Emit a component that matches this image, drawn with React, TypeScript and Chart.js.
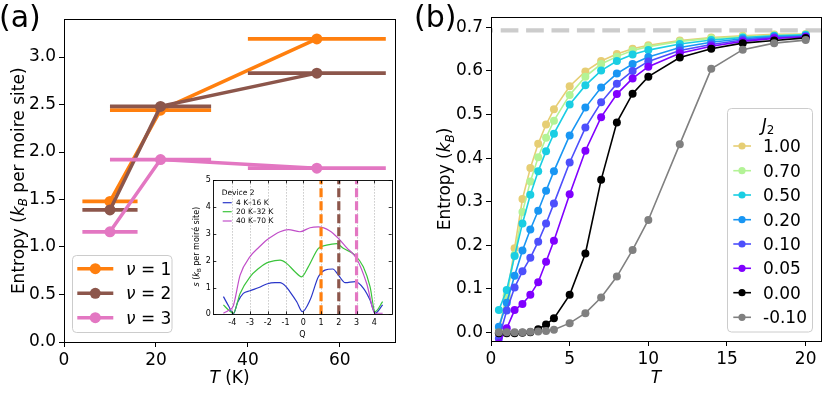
import React, { useEffect, useRef } from "react";
import { Chart, registerables } from "chart.js";

Chart.register(...registerables);

const FONT = "DejaVu Sans";

// ---------------- Panel (a) data ----------------
const tempA = [10, 21, 55];
const tempLowA = [4, 10, 40];
const tempHighA = [16, 32, 70];
const entropyNu1 = [1.48, 2.44, 3.19];
const entropyNu2 = [1.39, 2.48, 2.83];
const entropyNu3 = [1.16, 1.92, 1.83];
const nuNames = ["1", "2", "3"];
const nuColors = ["#ff7f0e", "#8c564b", "#e377c2"];
const xTicksA = [0, 20, 40, 60];
const yTicksA = [0, 0.5, 1.0, 1.5, 2.0, 2.5, 3.0];

// ---------------- Inset data ----------------
const qBlue = [-4.5, -4.2, -3.94, -3.7, -3.38, -3.0, -2.5, -2.06, -1.6, -1.31, -1.0, -0.75, -0.37, -0.05, 0.38, 0.85, 1.22, 1.66, 1.98, 2.36, 2.92, 3.39, 3.76, 4.04, 4.47];
const sBlue = [0.66, 0.3, 0.02, 0.45, 0.78, 0.88, 1.0, 1.13, 1.18, 1.18, 1.05, 0.84, 0.47, 0.1, 0.53, 1.4, 1.65, 1.69, 1.46, 1.18, 1.22, 0.97, 0.53, 0.04, 0.35];
const qGreen = [-4.5, -4.2, -3.94, -3.56, -3.0, -2.5, -2.06, -1.6, -1.31, -0.94, -0.47, -0.1, 0.28, 0.85, 1.31, 1.88, 2.25, 2.91, 3.38, 3.76, 4.04, 4.47];
const sGreen = [0.35, 0.15, 0.04, 0.78, 1.4, 1.72, 1.92, 2.0, 2.02, 1.9, 1.59, 1.4, 1.77, 2.46, 2.58, 2.64, 2.46, 2.21, 1.77, 1.03, 0.1, 0.47];
const qPurple = [-4.5, -4.2, -3.94, -3.56, -3.0, -2.5, -2.06, -1.6, -1.31, -0.84, -0.19, 0.38, 0.85, 1.5, 1.98, 2.44, 3.0, 3.57, 4.04, 4.47];
const sPurple = [0.04, 0.15, 0.32, 1.46, 2.15, 2.5, 2.77, 2.98, 3.08, 3.16, 3.08, 3.23, 3.26, 3.11, 2.83, 2.49, 2.08, 1.15, 0.04, 0.04];
const insetLabels = ["4 K\u201316 K", "20 K\u201332 K", "40 K\u201370 K"];
const insetColors = ["#2a36c9", "#3cc43c", "#c14fc9"];
const markerQ = [1, 2, 3];
const qTicks = [-4, -3, -2, -1, 0, 1, 2, 3, 4];
const sTicks = [0, 1, 2, 3, 4, 5];

// ---------------- Panel (b) data ----------------
const tempB = [0.5, 1, 1.5, 2, 2.5, 3, 3.5, 4, 5, 6, 7, 8, 9, 10, 12, 14, 16, 18, 20];
const sJ100 = [0.005, 0.08, 0.193, 0.306, 0.377, 0.433, 0.477, 0.512, 0.565, 0.599, 0.623, 0.639, 0.651, 0.659, 0.67, 0.677, 0.681, 0.684, 0.685];
const sJ070 = [0.008, 0.085, 0.178, 0.276, 0.346, 0.402, 0.447, 0.486, 0.545, 0.587, 0.616, 0.633, 0.647, 0.656, 0.668, 0.675, 0.679, 0.682, 0.684];
const sJ050 = [0.051, 0.097, 0.175, 0.25, 0.316, 0.37, 0.416, 0.456, 0.523, 0.567, 0.601, 0.623, 0.638, 0.648, 0.662, 0.671, 0.677, 0.681, 0.683];
const sJ020 = [0.013, 0.068, 0.13, 0.188, 0.236, 0.279, 0.325, 0.37, 0.452, 0.516, 0.562, 0.594, 0.616, 0.632, 0.654, 0.666, 0.674, 0.679, 0.681];
const sJ010 = [-0.014, 0.05, 0.103, 0.14, 0.171, 0.208, 0.25, 0.296, 0.39, 0.47, 0.528, 0.571, 0.6, 0.622, 0.647, 0.661, 0.671, 0.677, 0.679];
const sJ005 = [-0.025, 0.009, 0.051, 0.065, 0.086, 0.115, 0.162, 0.21, 0.317, 0.417, 0.494, 0.547, 0.583, 0.61, 0.641, 0.657, 0.668, 0.675, 0.678];
const sJ000 = [-0.002, -0.002, -0.002, -0.001, 0.0, 0.007, 0.018, 0.032, 0.086, 0.181, 0.35, 0.482, 0.548, 0.587, 0.631, 0.651, 0.664, 0.67, 0.676];
const sJm010 = [0.0, 0.0, 0.0, 0.0, 0.001, 0.002, 0.003, 0.006, 0.021, 0.044, 0.08, 0.128, 0.189, 0.258, 0.432, 0.605, 0.649, 0.664, 0.671];
const j2Labels = ["1.00", "0.70", "0.50", "0.20", "0.10", "0.05", "0.00", "-0.10"];
const j2Colors = ["#e6ce74", "#b3f396", "#1acee3", "#1996f3", "#4d4ffc", "#8000ff", "#000000", "#808080"];
const xTicksB = [0, 5, 10, 15, 20];
const yTicksB = [0, 0.1, 0.2, 0.3, 0.4, 0.5, 0.6, 0.7];
const LN2 = Math.log(2);

// ---------------- helpers ----------------
type Seg = { t: string; it?: boolean; sub?: boolean };

function segFont(s: Seg, size: number) {
  return `${s.it ? "italic " : ""}${s.sub ? size * 0.7 : size}px "${FONT}"`;
}
function richWidth(ctx: CanvasRenderingContext2D, segs: Seg[], size: number) {
  let w = 0;
  for (const s of segs) {
    ctx.font = segFont(s, size);
    w += ctx.measureText(s.t).width;
  }
  return w;
}
function drawRich(
  ctx: CanvasRenderingContext2D,
  segs: Seg[],
  x: number,
  y: number,
  size: number,
  align: "left" | "center",
  rot = 0,
  color = "#000"
) {
  ctx.save();
  ctx.translate(x, y);
  if (rot) ctx.rotate(rot);
  const w = richWidth(ctx, segs, size);
  let cx = align === "center" ? -w / 2 : 0;
  ctx.fillStyle = color;
  ctx.textAlign = "left";
  ctx.textBaseline = "alphabetic";
  for (const s of segs) {
    ctx.font = segFont(s, size);
    ctx.fillText(s.t, cx, s.sub ? size * 0.22 : 0);
    cx += ctx.measureText(s.t).width;
  }
  ctx.restore();
}
function roundRectPath(ctx: CanvasRenderingContext2D, x: number, y: number, w: number, h: number, r: number) {
  ctx.beginPath();
  ctx.moveTo(x + r, y);
  ctx.lineTo(x + w - r, y);
  ctx.arcTo(x + w, y, x + w, y + r, r);
  ctx.lineTo(x + w, y + h - r);
  ctx.arcTo(x + w, y + h, x + w - r, y + h, r);
  ctx.lineTo(x + r, y + h);
  ctx.arcTo(x, y + h, x, y + h - r, r);
  ctx.lineTo(x, y + r);
  ctx.arcTo(x, y, x + r, y, r);
  ctx.closePath();
}
function frame(ctx: CanvasRenderingContext2D, a: any, lw = 1) {
  ctx.save();
  ctx.strokeStyle = "#000";
  ctx.lineWidth = lw;
  ctx.strokeRect(Math.round(a.left) + 0.5, Math.round(a.top) + 0.5, Math.round(a.right) - Math.round(a.left), Math.round(a.bottom) - Math.round(a.top));
  ctx.restore();
}

function axis(min: number, max: number, ticks: number[], fmt: (v: number) => string, fixed: number, isX: boolean, size = 17, pad = 3) {
  return {
    type: "linear",
    min,
    max,
    afterBuildTicks: (s: any) => {
      s.ticks = ticks.map((v) => ({ value: v }));
    },
    afterFit: (s: any) => {
      if (isX) s.height = fixed;
      else s.width = fixed;
    },
    ticks: {
      font: { family: FONT, size },
      color: "#000",
      padding: pad,
      autoSkip: false,
      maxRotation: 0,
      minRotation: 0,
      includeBounds: false,
      callback: (v: any) => fmt(Number(v)),
    },
    grid: { drawOnChartArea: false, drawTicks: true, tickLength: 5, color: "#000", lineWidth: 1 },
    border: { display: false },
  };
}

function withOrder(list: any[]) {
  const n = list.length;
  return list.map((d, i) => ({ ...d, order: n - i }));
}

// ---------------- Panel (a) config ----------------
function configA(): any {
  const series = [entropyNu1, entropyNu2, entropyNu3];
  const ds: any[] = [];
  series.forEach((vals, k) => {
    vals.forEach((v, i) => {
      ds.push({
        data: [{ x: tempLowA[i], y: v }, { x: tempHighA[i], y: v }],
        showLine: true,
        borderColor: nuColors[k],
        borderWidth: 3.8,
        pointRadius: 0,
        borderCapStyle: "butt",
        clip: 0,
      });
    });
    ds.push({
      data: vals.map((v, i) => ({ x: tempA[i], y: v })),
      showLine: true,
      borderColor: nuColors[k],
      backgroundColor: nuColors[k],
      borderWidth: 3.5,
      pointRadius: 5.5,
      pointBackgroundColor: nuColors[k],
      pointBorderWidth: 0,
      clip: 0,
    });
  });
  const plugin = {
    id: "panelA",
    afterDatasetsDraw(chart: any) {
      frame(chart.ctx, chart.chartArea);
    },
    afterDraw(chart: any) {
      const ctx = chart.ctx as CanvasRenderingContext2D;
      // legend
      ctx.save();
      roundRectPath(ctx, 72.5, 255.5, 99.5, 77, 4);
      ctx.fillStyle = "rgba(255,255,255,0.8)";
      ctx.fill();
      ctx.strokeStyle = "#cccccc";
      ctx.lineWidth = 1;
      ctx.stroke();
      const rows = [268.7, 293.3, 317.7];
      nuNames.forEach((nm, k) => {
        const y = rows[k];
        ctx.strokeStyle = nuColors[k];
        ctx.lineWidth = 3.5;
        ctx.beginPath();
        ctx.moveTo(77.3, y);
        ctx.lineTo(113.3, y);
        ctx.stroke();
        ctx.fillStyle = nuColors[k];
        ctx.beginPath();
        ctx.arc(95.3, y, 5.5, 0, Math.PI * 2);
        ctx.fill();
        drawRich(ctx, [{ t: "\u03bd", it: true }, { t: " = " + nm }], 126, y + 6, 17, "left");
      });
      ctx.restore();
      // axis labels
      drawRich(ctx, [{ t: "T", it: true }, { t: " (K)" }], 229.5, 383, 17, "center");
      drawRich(
        ctx,
        [{ t: "Entropy (" }, { t: "k", it: true }, { t: "B", it: true, sub: true }, { t: " per moire site)" }],
        23.5,
        180.8,
        17,
        "center",
        -Math.PI / 2
      );
      ctx.save();
      ctx.font = `30px "${FONT}"`;
      ctx.fillStyle = "#000";
      ctx.textBaseline = "alphabetic";
      ctx.fillText("(a)", -1, 26.5);
      ctx.restore();
    },
  };
  return {
    type: "scatter",
    data: { datasets: withOrder(ds) },
    options: {
      responsive: false,
      maintainAspectRatio: false,
      animation: false,
      devicePixelRatio: 1,
      events: [],
      layout: { padding: { left: 0, right: 20, top: 19, bottom: 0 } },
      plugins: { legend: { display: false }, tooltip: { enabled: false } },
      scales: {
        x: axis(0, 72, xTicksA, (v) => String(v), 54, true),
        y: axis(0, 3.4, yTicksA, (v) => v.toFixed(1), 64, false),
      },
    },
    plugins: [plugin],
  };
}

// ---------------- Inset config ----------------
// canvas placed at page (180,170), size 220x175; axes box = page (213.3,180.3)-(391.7,314.3)
function configI(): any {
  const curves = [
    [qBlue, sBlue],
    [qGreen, sGreen],
    [qPurple, sPurple],
  ];
  const ds: any[] = [];
  curves.forEach(([q, s], k) => {
    ds.push({
      data: q.map((qq, i) => ({ x: qq, y: s[i] })),
      showLine: true,
      borderColor: insetColors[k],
      borderWidth: 1.2,
      pointRadius: 0,
      cubicInterpolationMode: "monotone",
      clip: 0,
    });
  });
  markerQ.forEach((q, k) => {
    ds.push({
      data: [{ x: q, y: 0 }, { x: q, y: 5 }],
      showLine: true,
      borderColor: nuColors[k],
      borderWidth: 3.2,
      borderDash: [9, 4],
      pointRadius: 0,
      clip: 0,
    });
  });
  const plugin = {
    id: "inset",
    beforeDatasetsDraw(chart: any) {
      const ctx = chart.ctx as CanvasRenderingContext2D;
      const a = chart.chartArea;
      ctx.save();
      ctx.fillStyle = "#fff";
      ctx.fillRect(a.left, a.top, a.right - a.left, a.bottom - a.top);
      const xs = chart.scales.x;
      ctx.strokeStyle = "#aaaaaa";
      ctx.lineWidth = 0.8;
      ctx.setLineDash([1.2, 1.8]);
      qTicks.forEach((q) => {
        const px = Math.round(xs.getPixelForValue(q)) + 0.5;
        ctx.beginPath();
        ctx.moveTo(px, a.top);
        ctx.lineTo(px, a.bottom);
        ctx.stroke();
      });
      ctx.restore();
    },
    afterDatasetsDraw(chart: any) {
      const ctx = chart.ctx as CanvasRenderingContext2D;
      const a = chart.chartArea;
      frame(ctx, a, 0.9);
      ctx.save();
      ctx.strokeStyle = "#000";
      ctx.lineWidth = 0.8;
      const xs = chart.scales.x;
      const ys = chart.scales.y;
      qTicks.forEach((q) => {
        const px = Math.round(xs.getPixelForValue(q)) + 0.5;
        ctx.beginPath();
        ctx.moveTo(px, a.bottom);
        ctx.lineTo(px, a.bottom - 3);
        ctx.moveTo(px, a.top);
        ctx.lineTo(px, a.top + 3);
        ctx.stroke();
      });
      sTicks.forEach((s) => {
        const py = Math.round(ys.getPixelForValue(s)) + 0.5;
        ctx.beginPath();
        ctx.moveTo(a.left, py);
        ctx.lineTo(a.left + 3, py);
        ctx.moveTo(a.right, py);
        ctx.lineTo(a.right - 3, py);
        ctx.stroke();
      });
      ctx.restore();
    },
    afterDraw(chart: any) {
      const ctx = chart.ctx as CanvasRenderingContext2D;
      const a = chart.chartArea;
      const xs = chart.scales.x;
      const ys = chart.scales.y;
      ctx.save();
      ctx.fillStyle = "#000";
      ctx.font = `8px "${FONT}"`;
      ctx.textBaseline = "middle";
      ctx.textAlign = "center";
      qTicks.forEach((q) => ctx.fillText(String(q), xs.getPixelForValue(q), a.bottom + 9));
      ctx.textAlign = "right";
      sTicks.forEach((s) => ctx.fillText(String(s), a.left - 2.5, ys.getPixelForValue(s)));
      // legend (inside axes)
      ctx.textAlign = "left";
      ctx.font = `7.5px "${FONT}"`;
      ctx.fillText("Device 2", a.left + 8.4, a.top + 12.4);
      const rows = [22.4, 31.4, 40.7];
      insetLabels.forEach((lb, k) => {
        const y = a.top + rows[k];
        ctx.strokeStyle = insetColors[k];
        ctx.lineWidth = 1.2;
        ctx.beginPath();
        ctx.moveTo(a.left + 9.4, y);
        ctx.lineTo(a.left + 18.4, y);
        ctx.stroke();
        ctx.fillStyle = "#000";
        ctx.fillText(lb, a.left + 22.7, y);
      });
      ctx.restore();
      drawRich(ctx, [{ t: "Q" }], (a.left + a.right) / 2, a.bottom + 23, 8, "center");
      drawRich(
        ctx,
        [{ t: "s", it: true }, { t: " (" }, { t: "k", it: true }, { t: "B", sub: true }, { t: " per moir\u00e9 site)" }],
        a.left - 14.3,
        (a.top + a.bottom) / 2 - 0.6,
        8,
        "center",
        -Math.PI / 2
      );
    },
  };
  return {
    type: "scatter",
    data: { datasets: withOrder(ds) },
    options: {
      responsive: false,
      maintainAspectRatio: false,
      animation: false,
      devicePixelRatio: 1,
      events: [],
      layout: { padding: { left: 33.3, right: 8.3, top: 10.3, bottom: 30.7 } },
      plugins: { legend: { display: false }, tooltip: { enabled: false } },
      scales: {
        x: { type: "linear", min: -5.07, max: 4.98, display: false },
        y: { type: "linear", min: 0, max: 5, display: false },
      },
    },
    plugins: [plugin],
  };
}

// ---------------- Panel (b) config ----------------
function configB(): any {
  const series = [sJ100, sJ070, sJ050, sJ020, sJ010, sJ005, sJ000, sJm010];
  const ds: any[] = [];
  ds.push({
    data: [{ x: 0, y: LN2 }, { x: 20.975, y: LN2 }],
    showLine: true,
    borderColor: "#cccccc",
    borderWidth: 4.3,
    borderDash: [17.7, 7.7],
    borderDashOffset: 15.7,
    borderCapStyle: "butt",
    pointRadius: 0,
    clip: 0,
  });
  series.forEach((vals, k) => {
    ds.push({
      data: vals.map((v, i) => ({ x: tempB[i], y: v })),
      showLine: true,
      borderColor: j2Colors[k],
      backgroundColor: j2Colors[k],
      borderWidth: 1.6,
      pointRadius: 4,
      pointBackgroundColor: j2Colors[k],
      pointBorderWidth: 0,
      clip: 0,
    });
  });
  const OX = 415;
  const plugin = {
    id: "panelB",
    afterDatasetsDraw(chart: any) {
      frame(chart.ctx, chart.chartArea);
    },
    afterDraw(chart: any) {
      const ctx = chart.ctx as CanvasRenderingContext2D;
      ctx.save();
      roundRectPath(ctx, 727.5 - OX, 108.5, 85, 223.5, 4);
      ctx.fillStyle = "rgba(255,255,255,0.8)";
      ctx.fill();
      ctx.strokeStyle = "#cccccc";
      ctx.lineWidth = 1;
      ctx.stroke();
      ctx.restore();
      drawRich(ctx, [{ t: "J", it: true }, { t: "2", sub: true }], 768 - OX, 130.5, 17, "center");
      const rows = [146, 170.7, 195, 219.7, 244, 268.3, 292.7, 317.3];
      j2Labels.forEach((lb, k) => {
        const y = rows[k];
        ctx.save();
        ctx.strokeStyle = j2Colors[k];
        ctx.lineWidth = 1.6;
        ctx.beginPath();
        ctx.moveTo(733.3 - OX, y);
        ctx.lineTo(751 - OX, y);
        ctx.stroke();
        ctx.fillStyle = j2Colors[k];
        ctx.beginPath();
        ctx.arc(742 - OX, y, 3.6, 0, Math.PI * 2);
        ctx.fill();
        ctx.restore();
        drawRich(ctx, [{ t: lb }], 763 - OX, y + 6, 17, "left");
      });
      drawRich(ctx, [{ t: "T", it: true }], 656 - OX, 383, 17, "center");
      drawRich(
        ctx,
        [{ t: "Entropy (" }, { t: "k", it: true }, { t: "B", it: true, sub: true }, { t: ")" }],
        450 - OX,
        179,
        17,
        "center",
        -Math.PI / 2
      );
      ctx.save();
      ctx.font = `30px "${FONT}"`;
      ctx.fillStyle = "#000";
      ctx.textBaseline = "alphabetic";
      ctx.fillText("(b)", 414 - OX, 26.5);
      ctx.restore();
    },
  };
  return {
    type: "scatter",
    data: { datasets: withOrder(ds) },
    options: {
      responsive: false,
      maintainAspectRatio: false,
      animation: false,
      devicePixelRatio: 1,
      events: [],
      layout: { padding: { left: 0, right: 9, top: 17, bottom: 0 } },
      plugins: { legend: { display: false }, tooltip: { enabled: false } },
      scales: {
        x: axis(0, 20.975, xTicksB, (v) => String(v), 55, true),
        y: axis(-0.02, 0.724, yTicksB, (v) => v.toFixed(1), 76, false),
      },
    },
    plugins: [plugin],
  };
}

export default function App() {
  const refA = useRef<HTMLCanvasElement>(null);
  const refB = useRef<HTMLCanvasElement>(null);
  const refI = useRef<HTMLCanvasElement>(null);
  useEffect(() => {
    const charts = [
      new Chart(refA.current as HTMLCanvasElement, configA()),
      new Chart(refB.current as HTMLCanvasElement, configB()),
      new Chart(refI.current as HTMLCanvasElement, configI()),
    ];
    return () => charts.forEach((c) => c.destroy());
  }, []);
  return (
    <div style={{ position: "fixed", left: 0, top: 0, width: 830, height: 396, background: "#fff", overflow: "hidden" }}>
      <canvas ref={refA} width={415} height={396} style={{ position: "absolute", left: 0, top: 0, width: 415, height: 396 }} />
      <canvas ref={refB} width={415} height={396} style={{ position: "absolute", left: 415, top: 0, width: 415, height: 396 }} />
      <canvas ref={refI} width={220} height={175} style={{ position: "absolute", left: 180, top: 170, width: 220, height: 175 }} />
    </div>
  );
}
